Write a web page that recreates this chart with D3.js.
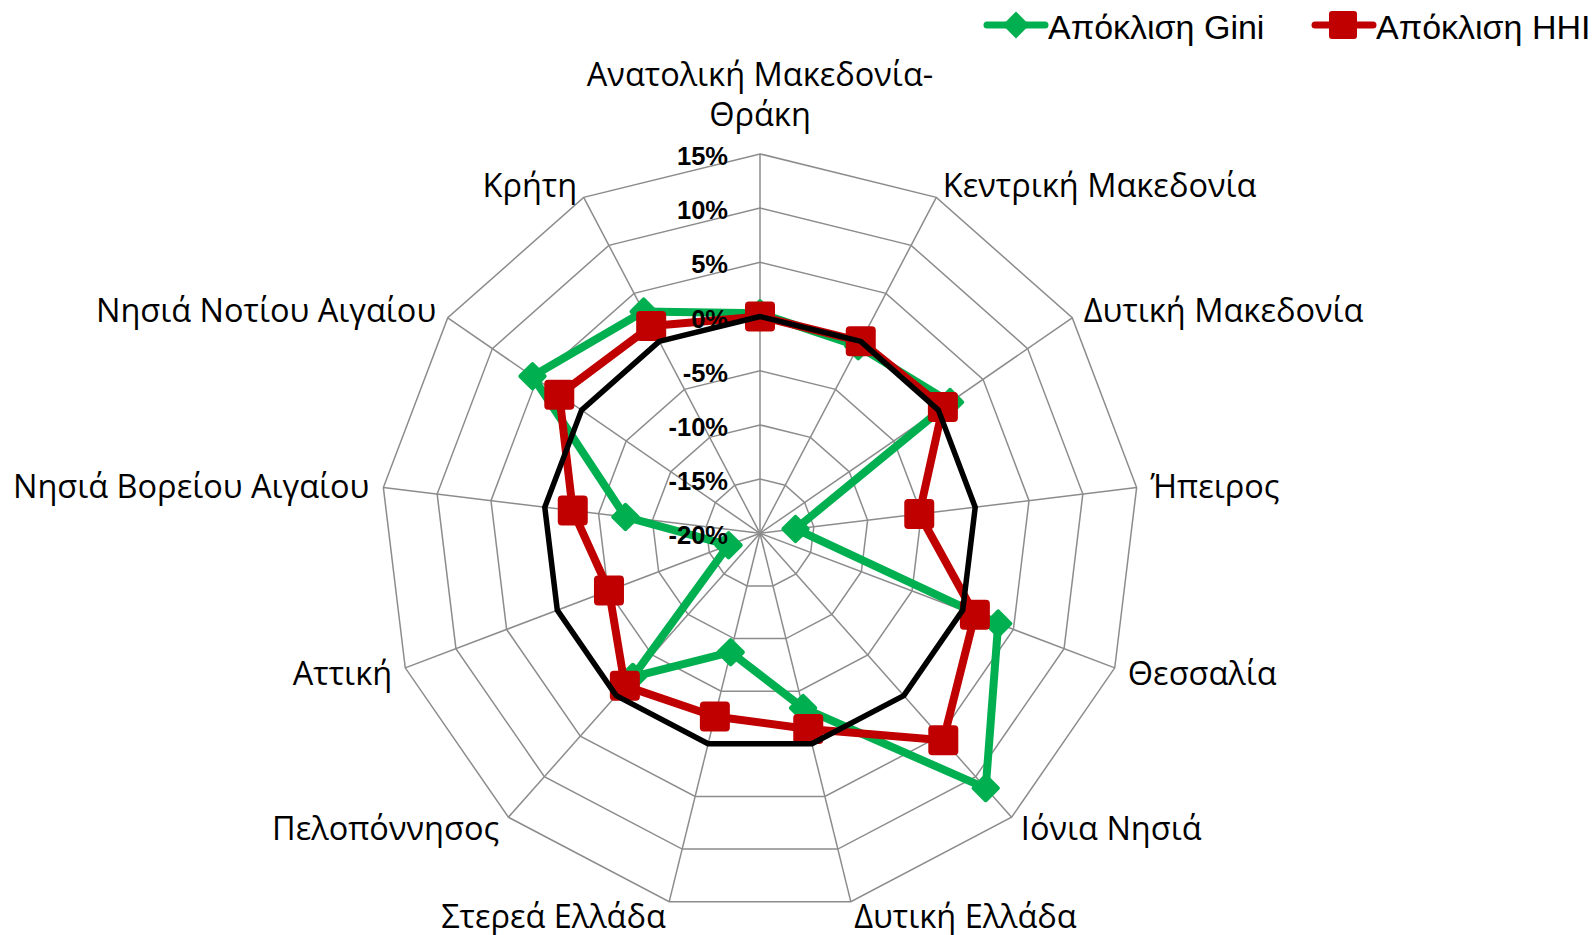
<!DOCTYPE html>
<html>
<head>
<meta charset="utf-8">
<script src="https://cdn.jsdelivr.net/npm/d3@7"></script>
<style>
  body { margin: 0; background: #fff; }
  svg { display: block; }
</style>
</head>
<body>
<div id="radar"></div>
<script>
// regions, clockwise from the top
var regions = [
    "Ανατολική Μακεδονία-Θράκη", "Κεντρική Μακεδονία", "Δυτική Μακεδονία", "Ήπειρος",
    "Θεσσαλία", "Ιόνια Νησιά", "Δυτική Ελλάδα", "Στερεά Ελλάδα", "Πελοπόννησος",
    "Αττική", "Νησιά Βορείου Αιγαίου", "Νησιά Νοτίου Αιγαίου", "Κρήτη"
];
// deviations in %
var giniDev = [0.3, -0.5, 1.3, -16.7, 3.5, 11.4, -3.4, -8.7, -2.3, -16.9, -7.5, 5.5, 3.1];
var hhiDev = [0, 0, 0.5, -5.2, 1.2, 5.5, -1.4, -2.6, -1.2, -5.1, -2.6, 2.5, 1.6];
var zeroLine = [0, 0, 0, 0, 0, 0, 0, 0, 0, 0, 0, 0, 0];
var tickValues = [-20, -15, -10, -5, 0, 5, 10, 15];
var legendNames = ["Απόκλιση Gini", "Απόκλιση HHI"];

var width = 1596, height = 935;
var cx = 760, cy = 533.3, R = 379.4;
var green = "#00B050", red = "#C00000", gridColor = "#8c8c8c";

var svg = d3.select("#radar").append("svg").attr("width", width).attr("height", height);

var r = d3.scaleLinear().domain([-20, 15]).range([0, R]);
var angle = d3.scaleLinear().domain([0, regions.length]).range([0, 2 * Math.PI]);

function px(i, v) { return cx + r(v) * Math.sin(angle(i)); }
function py(i, v) { return cy - r(v) * Math.cos(angle(i)); }

var g = svg.append("g");

// rings
tickValues.slice(1).forEach(function(t) {
    var ring = regions.map(function(d, i) { return [px(i, t), py(i, t)]; });
    g.append("polygon").attr("points", ring.map(function(p) { return p.join(","); }).join(" "))
        .attr("fill", "none").attr("stroke", gridColor).attr("stroke-width", 1.5);
});

// spokes
g.selectAll(".spoke").data(regions).enter().append("line")
    .attr("x1", cx).attr("y1", cy)
    .attr("x2", (d, i) => px(i, 15)).attr("y2", (d, i) => py(i, 15))
    .attr("stroke", gridColor).attr("stroke-width", 1.5);

// region labels
var labelFont = "'Open Sans', 'Noto Sans', sans-serif";
var labelSize = 32.5;
regions.forEach(function(name, i) {
    var a = angle(i);
    var x = cx + (R + 14) * Math.sin(a);
    var y = cy - (R + 14) * Math.cos(a);
    if (i === 0) {
        var parts = name.split("-");
        var t = g.append("text").attr("text-anchor", "middle").attr("font-family", labelFont)
            .attr("font-size", labelSize).attr("fill", "#000");
        t.append("tspan").attr("x", x).attr("y", y - 54).text(parts[0] + "-");
        t.append("tspan").attr("x", x).attr("y", y - 14).text(parts[1]);
        return;
    }
    var s = Math.sin(a);
    g.append("text")
        .attr("x", x).attr("y", y)
        .attr("text-anchor", s > 0.05 ? "start" : (s < -0.05 ? "end" : "middle"))
        .attr("dominant-baseline", "central")
        .attr("font-family", labelFont).attr("font-size", labelSize).attr("fill", "#000")
        .text(name);
});

var line = d3.line().x(d => d[0]).y(d => d[1]).curve(d3.curveLinearClosed);
function pts(vals) { return vals.map(function(v, i) { return [px(i, v), py(i, v)]; }); }

// Gini series
g.append("path").attr("d", line(pts(giniDev))).attr("fill", "none")
    .attr("stroke", green).attr("stroke-width", 8).attr("stroke-linejoin", "round");
g.selectAll(".gini").data(giniDev).enter().append("rect")
    .attr("x", -10.6).attr("y", -10.6).attr("width", 21.2).attr("height", 21.2).attr("rx", 2)
    .attr("fill", green)
    .attr("transform", (d, i) => "translate(" + px(i, d) + "," + py(i, d) + ") rotate(45)");

// HHI series
g.append("path").attr("d", line(pts(hhiDev))).attr("fill", "none")
    .attr("stroke", red).attr("stroke-width", 8).attr("stroke-linejoin", "round");
g.selectAll(".hhi").data(hhiDev).enter().append("rect")
    .attr("x", (d, i) => px(i, d) - 15).attr("y", (d, i) => py(i, d) - 15)
    .attr("width", 30).attr("height", 30).attr("rx", 4)
    .attr("fill", red);

// zero reference
g.append("path").attr("d", line(pts(zeroLine))).attr("fill", "none")
    .attr("stroke", "#000").attr("stroke-width", 5.5).attr("stroke-linejoin", "round");

// tick labels
g.selectAll(".tick").data(tickValues).enter().append("text")
    .attr("x", cx - 32).attr("y", d => cy - r(d) + 2)
    .attr("text-anchor", "end").attr("dominant-baseline", "central")
    .attr("font-family", "'Liberation Sans', Arial, sans-serif").attr("font-weight", "bold")
    .attr("font-size", 25.5).attr("fill", "#000")
    .text(d => d + "%");

// legend
var legend = svg.append("g");
var legendX = [987, 1315];
var legendColors = [green, red];
legendNames.forEach(function(name, i) {
    var x0 = legendX[i];
    legend.append("line").attr("x1", x0).attr("x2", x0 + 58).attr("y1", 25).attr("y2", 25)
        .attr("stroke", legendColors[i]).attr("stroke-width", 7).attr("stroke-linecap", "round");
    if (i === 0) {
        legend.append("rect").attr("x", -9.5).attr("y", -9.5).attr("width", 19).attr("height", 19)
            .attr("fill", green).attr("transform", "translate(" + (x0 + 29) + ",25) rotate(45)");
    } else {
        legend.append("rect").attr("x", x0 + 14).attr("y", 11).attr("width", 28).attr("height", 28)
            .attr("rx", 3).attr("fill", red);
    }
    legend.append("text").attr("x", x0 + 61).attr("y", 27).attr("dominant-baseline", "central")
        .attr("font-family", "'Liberation Sans', Arial, sans-serif").attr("font-size", 34)
        .attr("fill", "#000").text(name);
});
</script>
</body>
</html>
